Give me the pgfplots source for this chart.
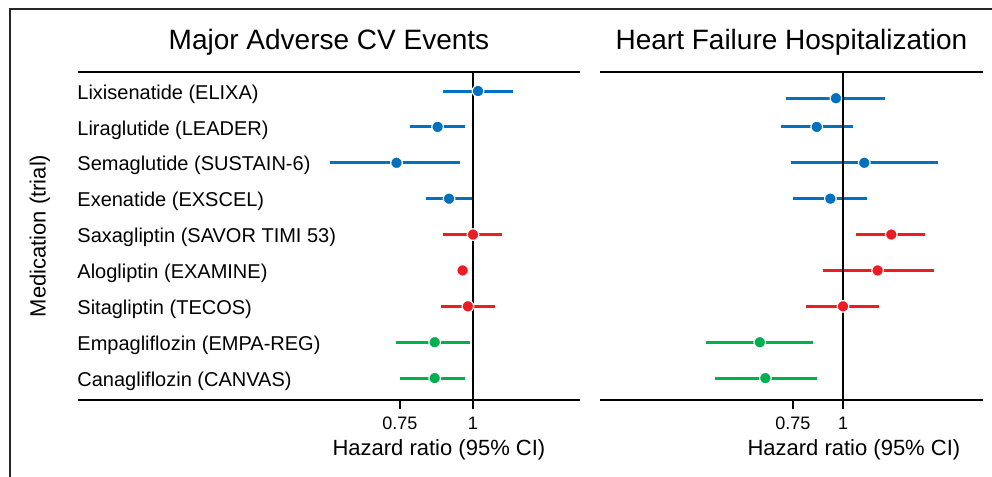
\documentclass[border=0pt]{standalone}
\usepackage{fontspec}
\setmainfont{Liberation Sans}
\usepackage{pgfplots}
\usepackage{pgfplotstable}
\pgfplotsset{compat=1.18}

\definecolor{glp}{RGB}{0,112,192}
\definecolor{dpp}{RGB}{237,28,36}
\definecolor{sglt}{RGB}{0,176,80}

% point estimates, MACE
\pgfplotstableread{
row hr
1 1.02
2 0.87
3 0.74
4 0.91
}\maceglp
\pgfplotstableread{
row hr
5 1.00
6 0.96
7 0.98
}\macedpp
\pgfplotstableread{
row hr
8 0.86
9 0.86
}\macesglt

% point estimates, heart failure hospitalization
\pgfplotstableread{
row hr
1.2 0.96
2 0.86
3 1.13
4 0.93
}\hfglp
\pgfplotstableread{
row hr
5 1.32
6 1.22
7 1.00
}\hfdpp
\pgfplotstableread{
row hr
8 0.62
9 0.64
}\hfsglt

% 95% CI segment: colour, lower, upper, row
\newcommand\ci[4]{\addplot[#1, line width=1.5pt] coordinates {(#2,#4) (#3,#4)};}

\pgfplotsset{
  hrpanel/.style={
    scale only axis, height=164pt,
    ymin=0.47, ymax=9.61, y dir=reverse,
    separate axis lines,
    y axis line style={draw=none},
    x axis line style={line width=1pt},
    xtick={0.75,1}, xticklabels={0.75,1},
    xtick pos=bottom, tick align=outside,
    major tick length=4.5pt,
    xtick style={line width=0.75pt, black},
    ytick={1,...,9}, ytick style={draw=none},
    xticklabel style={font=\fontsize{9}{10}\selectfont, anchor=base, yshift=-10pt},
    title style={font=\fontsize{14}{16}\selectfont, at={(axis description cs:0.5,1)}, anchor=base, yshift=5.5pt},
    xlabel style={font=\fontsize{11}{13}\selectfont, anchor=base, yshift=-27.5pt},
    ylabel style={font=\fontsize{11}{13}\selectfont},
  },
  hrdot/.style={only marks, mark=*, mark size=2.9pt,
    mark options={fill=#1, draw=white, line width=0.6pt}},
}

\begin{document}
\begin{tikzpicture}
\path[use as bounding box] (0,0) rectangle (496pt,-238.5pt);
\draw[line width=1pt, black!85] (5pt,-300pt) -- (5pt,-4.25pt) -- (600pt,-4.25pt);

\begin{axis}[xmode=log, hrpanel, at={(39pt,-36pt)}, anchor=north west,
    width=251pt, xmin=0.2112, xmax=1.5239,
    title={Major Adverse CV Events},
    xlabel={Hazard ratio (95\% CI)},
    xlabel style={at={(axis description cs:0.719,0)}},
    ylabel={Medication (trial)},
    ylabel style={at={(axis description cs:-0.0757,0.5)}, anchor=center},
    yticklabels={Lixisenatide (ELIXA), Liraglutide (LEADER), Semaglutide (SUSTAIN-6),
      Exenatide (EXSCEL), Saxagliptin (SAVOR TIMI 53), Alogliptin (EXAMINE),
      Sitagliptin (TECOS), Empagliflozin (EMPA-REG), Canagliflozin (CANVAS)},
    yticklabel style={font=\fontsize{10}{12}\selectfont, anchor=west, inner sep=0pt, xshift=4pt, yshift=-1.5pt},
  ]
  \ci{glp}{0.89}{1.17}{1}
  \ci{glp}{0.78}{0.97}{2}
  \ci{glp}{0.57}{0.95}{3}
  \ci{glp}{0.83}{1.00}{4}
  \ci{dpp}{0.89}{1.12}{5}
  \ci{dpp}{0.88}{1.09}{7}
  \ci{sglt}{0.74}{0.99}{8}
  \ci{sglt}{0.75}{0.97}{9}
  \addplot[black, line width=1pt] coordinates {(1,0.47) (1,9.61)};
  \addplot[hrdot=glp] table[x=hr, y=row] {\maceglp};
  \addplot[hrdot=dpp] table[x=hr, y=row] {\macedpp};
  \addplot[hrdot=sglt] table[x=hr, y=row] {\macesglt};
\end{axis}

\begin{axis}[xmode=log, hrpanel, at={(300pt,-36pt)}, anchor=north west,
    width=191.5pt, xmin=0.2474, xmax=2.2357,
    title={Heart Failure Hospitalization},
    xlabel={Hazard ratio (95\% CI)},
    xlabel style={at={(axis description cs:0.663,0)}},
    yticklabels={},
  ]
  \ci{glp}{0.72}{1.27}{1.2}
  \ci{glp}{0.70}{1.06}{2}
  \ci{glp}{0.74}{1.73}{3}
  \ci{glp}{0.75}{1.15}{4}
  \ci{dpp}{1.08}{1.60}{5}
  \ci{dpp}{0.89}{1.69}{6}
  \ci{dpp}{0.81}{1.23}{7}
  \ci{sglt}{0.455}{0.84}{8}
  \ci{sglt}{0.48}{0.86}{9}
  \addplot[black, line width=1pt] coordinates {(1,0.47) (1,9.61)};
  \addplot[hrdot=glp] table[x=hr, y=row] {\hfglp};
  \addplot[hrdot=dpp] table[x=hr, y=row] {\hfdpp};
  \addplot[hrdot=sglt] table[x=hr, y=row] {\hfsglt};
\end{axis}
\end{tikzpicture}
\end{document}
